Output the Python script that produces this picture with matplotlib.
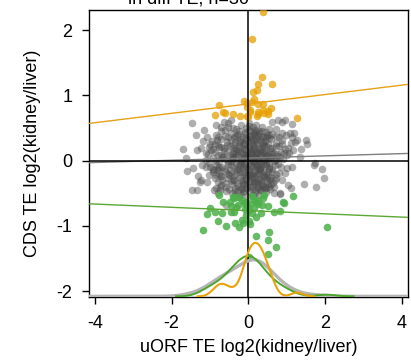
import matplotlib
matplotlib.use("Agg")
import matplotlib.pyplot as plt
import numpy as np

plt.rcParams["font.family"] = ["Liberation Sans", "DejaVu Sans"]
plt.rcParams["axes.unicode_minus"] = False

# points (uORF TE, CDS TE)
orange_pts = [
    (0.39, 2.28), (0.09, 1.87), (0.35, 1.29), (0.24, 1.18), (0.62, 1.18),
    (0.23, 1.09), (0.12, 1.05), (-0.11, 0.92), (0.15, 0.94), (0.09, 0.90),
    (-0.04, 0.88), (-0.76, 0.85), (0.26, 0.87), (0.38, 0.87), (-0.04, 0.83),
    (0.04, 0.77), (-0.66, 0.75), (-0.60, 0.73), (-0.40, 0.72), (-0.87, 0.70),
    (0.24, 0.75), (0.39, 0.77), (0.52, 0.76), (0.58, 0.80), (0.52, 0.72),
    (-0.21, 0.68), (-0.02, 0.67), (0.22, 0.69), (0.26, 0.71), (1.27, 0.66),
    (-0.03, 0.68), (0.05, 0.75), (0.40, 0.73),
]

green_pts = [
    (-0.77, -0.52), (-0.66, -0.64), (-1.00, -0.72), (-1.08, -0.82), (-0.88, -0.79),
    (-0.69, -0.80), (-0.80, -0.92), (-1.18, -1.07), (-0.59, -1.00), (-0.48, -0.63),
    (-0.46, -0.70), (-0.46, -0.79), (-0.41, -0.56), (-0.36, -0.57), (-0.33, -0.71),
    (-0.37, -0.79), (-0.26, -0.55), (-0.17, -0.60), (-0.11, -0.65), (-0.05, -0.63),
    (-0.03, -0.70), (0.05, -0.66), (0.10, -0.54), (0.15, -0.60), (0.19, -0.63),
    (0.26, -0.66), (0.35, -0.68), (0.37, -0.57), (0.40, -0.52), (0.24, -0.60),
    (0.32, -0.80), (0.19, -0.86), (0.10, -0.80), (0.01, -0.75), (-0.05, -0.83),
    (-0.17, -0.91), (-0.14, -0.95), (-0.35, -0.95), (-0.23, -1.01), (0.01, -0.93),
    (0.04, -0.97), (0.52, -0.69), (0.66, -0.78), (0.83, -0.77), (0.91, -0.63),
    (0.94, -0.65), (1.17, -0.54), (0.19, -1.16), (0.53, -1.10), (0.50, -1.21),
    (0.73, -1.33), (0.51, -1.43), (2.04, -1.01), (0.02, -1.47), (-0.28, -0.68),
    (-0.09, -0.74), (0.15, -0.73),
]

gray_pts = [
    # sparse outer points
    (-1.47, 0.57), (-1.71, 0.18), (-1.62, 0.04), (-1.61, -0.16), (-1.44, -0.11),
    (-1.46, -0.45), (-1.33, -0.45), (-1.36, 0.39), (-1.34, 0.16), (-1.31, -0.24),
    (-1.23, -0.30), (-1.18, 0.30), (-1.15, 0.47), (-1.08, 0.37), (-1.23, 0.20),
    (-1.10, 0.11), (-1.20, -0.06), (-1.11, -0.09), (-1.03, -0.22), (-1.07, -0.33),
    (-0.99, 0.25), (-0.92, 0.18), (-0.84, 0.55), (-0.82, 0.31), (-0.77, 0.21),
    (-0.91, -0.14), (-0.80, -0.11), (-0.71, -0.23), (-0.84, -0.42), (-0.90, -0.45),
    (-0.75, -0.40), (-0.57, -0.68), (-0.64, 0.60), (-0.53, 0.58), (-0.44, 0.63),
    (-0.72, 0.51), (-1.25, -0.32), (-0.80, -0.50), (-0.75, -0.45),
    (0.78, 0.62), (0.87, 0.59), (0.96, 0.62), (1.13, 0.56), (1.08, 0.43),
    (1.18, 0.42), (1.10, 0.27), (1.22, 0.29), (1.26, 0.31), (1.51, 0.32),
    (1.53, 0.25), (1.37, 0.18), (1.17, 0.17), (1.04, 0.20), (1.07, 0.11),
    (1.34, 0.05), (1.70, -0.06), (1.73, -0.04), (1.93, -0.13), (1.96, -0.27),
    (1.01, -0.11), (1.13, -0.10), (1.45, -0.36), (1.77, -0.41), (1.04, -0.38),
    (1.12, -0.42), (0.83, -0.50), (0.68, -0.50), (0.89, -0.29), (0.95, -0.19),
    (0.88, 0.43), (0.97, 0.40), (0.63, 0.60), (0.72, 0.48), (0.54, -0.40),
    (0.45, -0.42), (1.15, 0.37), (0.82, -0.51),
    # dense core
    (-0.52, 0.52), (-0.31, 0.49), (-0.18, 0.55), (0.03, 0.53), (0.17, 0.47),
    (0.36, 0.51), (0.55, 0.49), (-0.70, 0.45),
    (-0.85, 0.40), (-0.62, 0.38), (-0.44, 0.43), (-0.27, 0.41), (-0.08, 0.44),
    (0.10, 0.39), (0.28, 0.42), (0.46, 0.37), (0.63, 0.41), (0.80, 0.36),
    (-0.95, 0.30), (-0.70, 0.33), (-0.55, 0.28), (-0.38, 0.34), (-0.21, 0.30),
    (-0.05, 0.33), (0.07, 0.28), (0.22, 0.31), (0.39, 0.29), (0.55, 0.34),
    (0.71, 0.27), (0.88, 0.31),
    (-1.02, 0.21), (-0.78, 0.24), (-0.63, 0.19), (-0.47, 0.23), (-0.33, 0.18),
    (-0.15, 0.24), (0.00, 0.20), (0.13, 0.23), (0.31, 0.18), (0.47, 0.22),
    (0.62, 0.19), (0.79, 0.23), (0.95, 0.18),
    (-1.05, 0.10), (-0.88, 0.13), (-0.71, 0.09), (-0.56, 0.14), (-0.40, 0.11),
    (-0.26, 0.15), (-0.10, 0.09), (0.04, 0.13), (0.19, 0.10), (0.35, 0.14),
    (0.52, 0.09), (0.68, 0.12), (0.84, 0.14), (1.00, 0.08),
    (-1.10, 0.01), (-0.93, 0.04), (-0.77, -0.01), (-0.60, 0.03), (-0.46, 0.00),
    (-0.32, 0.05), (-0.18, 0.01), (-0.03, 0.04), (0.11, -0.01), (0.26, 0.03),
    (0.42, 0.00), (0.58, 0.05), (0.73, 0.01), (0.90, 0.03),
    (-1.00, -0.09), (-0.84, -0.06), (-0.68, -0.10), (-0.52, -0.05), (-0.37, -0.09),
    (-0.22, -0.07), (-0.07, -0.10), (0.07, -0.06), (0.22, -0.09), (0.37, -0.05),
    (0.53, -0.10), (0.69, -0.07), (0.85, -0.09),
    (-0.93, -0.17), (-0.77, -0.20), (-0.62, -0.16), (-0.46, -0.19), (-0.30, -0.15),
    (-0.14, -0.20), (0.01, -0.17), (0.16, -0.19), (0.31, -0.15), (0.47, -0.20),
    (0.63, -0.17), (0.80, -0.19),
    (-0.86, -0.27), (-0.69, -0.30), (-0.54, -0.26), (-0.38, -0.29), (-0.22, -0.25),
    (-0.06, -0.30), (0.09, -0.27), (0.25, -0.29), (0.41, -0.25), (0.57, -0.30),
    (0.73, -0.27),
    (-0.72, -0.37), (-0.57, -0.40), (-0.42, -0.36), (-0.27, -0.39), (-0.11, -0.35),
    (0.04, -0.40), (0.19, -0.36), (0.35, -0.39), (0.50, -0.36), (0.66, -0.40),
    (-0.58, -0.46), (-0.43, -0.49), (-0.28, -0.45), (-0.13, -0.48), (0.02, -0.46),
    (0.17, -0.49), (0.32, -0.45), (0.47, -0.48),
    (-0.62, 0.47), (-0.41, 0.50), (-0.24, 0.46), (-0.06, 0.50), (0.12, 0.52),
    (0.29, 0.46), (0.46, 0.44),
    (-0.78, 0.37), (-0.52, 0.36), (-0.35, 0.29), (-0.15, 0.37), (0.02, 0.38),
    (0.18, 0.40), (0.37, 0.36), (0.54, 0.40), (0.72, 0.38),
    (-0.87, 0.25), (-0.70, 0.21), (-0.55, 0.24), (-0.40, 0.20), (-0.25, 0.22),
    (-0.08, 0.26), (0.08, 0.18), (0.22, 0.25), (0.40, 0.24), (0.56, 0.19),
    (0.71, 0.22), (0.87, 0.26),
    (-0.97, 0.16), (-0.79, 0.08), (-0.63, 0.15), (-0.48, 0.09), (-0.33, 0.12),
    (-0.18, 0.14), (-0.02, 0.09), (0.12, 0.15), (0.27, 0.09), (0.44, 0.12),
    (0.60, 0.15), (0.76, 0.07), (0.92, 0.11),
    (-1.02, -0.03), (-0.85, 0.00), (-0.68, 0.05), (-0.53, -0.02), (-0.39, 0.02),
    (-0.25, -0.02), (-0.11, 0.03), (0.04, 0.00), (0.18, 0.04), (0.34, -0.02),
    (0.50, 0.02), (0.66, -0.01), (0.82, 0.05),
    (-0.92, -0.12), (-0.76, -0.09), (-0.60, -0.13), (-0.45, -0.07), (-0.29, -0.12),
    (-0.14, -0.06), (0.00, -0.12), (0.14, -0.08), (0.30, -0.12), (0.45, -0.07),
    (0.61, -0.12), (0.77, -0.05),
    (-0.84, -0.22), (-0.70, -0.24), (-0.54, -0.20), (-0.38, -0.23), (-0.22, -0.18),
    (-0.06, -0.22), (0.09, -0.24), (0.24, -0.20), (0.39, -0.22), (0.55, -0.25),
    (0.71, -0.21),
    (-0.78, -0.33), (-0.62, -0.34), (-0.46, -0.31), (-0.30, -0.34), (-0.14, -0.31),
    (0.01, -0.33), (0.16, -0.32), (0.32, -0.34), (0.48, -0.31), (0.64, -0.34),
    (-0.50, -0.43), (-0.35, -0.42), (-0.20, -0.44), (-0.05, -0.42), (0.10, -0.44),
    (0.25, -0.42), (0.40, -0.43), (0.56, -0.44),
    (-0.35, -0.53), (-0.18, -0.52), (-0.02, -0.55), (0.13, -0.53), (0.28, -0.52),
    (-0.40, 0.06), (-0.20, -0.03), (0.15, 0.06), (0.30, -0.12), (-0.10, 0.18),
    (0.05, -0.22), (-0.25, 0.28), (0.20, 0.35), (-0.50, -0.22), (0.45, 0.15),
    (-0.15, -0.35), (0.10, 0.45), (0.60, -0.25), (-0.65, 0.05), (0.75, 0.10),
    (-0.80, -0.15), (0.25, -0.40), (-0.35, 0.38),
    # densest centre
    (-0.45, 0.31), (-0.38, 0.15), (-0.33, -0.04), (-0.31, -0.21), (-0.29, 0.40),
    (-0.27, 0.08), (-0.24, -0.12), (-0.22, 0.19), (-0.20, -0.29), (-0.19, 0.33),
    (-0.17, 0.04), (-0.16, -0.42), (-0.14, 0.12), (-0.12, -0.18), (-0.11, 0.27),
    (-0.09, -0.05), (-0.08, 0.41), (-0.07, -0.26), (-0.05, 0.16), (-0.04, -0.37),
    (-0.03, 0.06), (-0.01, 0.30), (0.00, -0.14), (0.01, 0.22), (0.02, -0.03),
    (0.03, 0.47), (0.05, -0.31), (0.06, 0.10), (0.07, 0.36), (0.08, -0.20),
    (0.09, 0.02), (0.11, 0.25), (0.12, -0.09), (0.13, -0.39), (0.14, 0.17),
    (0.15, 0.42), (0.16, -0.26), (0.17, 0.05), (0.18, -0.14), (0.20, 0.29),
    (0.21, -0.05), (0.22, 0.13), (0.23, -0.33), (0.25, 0.38), (0.26, -0.19),
    (0.27, 0.20), (0.28, 0.00), (0.30, -0.28), (0.31, 0.33), (0.32, 0.08),
    (0.34, -0.10), (0.35, 0.22), (0.37, -0.37), (0.38, 0.02), (0.40, 0.14),
    (0.41, -0.18), (0.43, 0.30), (0.45, -0.05), (0.47, 0.07), (0.49, -0.27),
    (0.51, 0.25), (0.53, -0.13), (0.56, 0.06), (0.58, -0.35), (0.60, 0.33),
    (-0.48, -0.15), (-0.43, 0.05), (-0.41, -0.30), (-0.36, 0.24), (-0.34, -0.46),
    (0.18, -0.45), (0.05, 0.33), (-0.10, -0.47), (0.36, 0.45), (-0.02, -0.22),
    (0.10, 0.12), (0.24, -0.06), (-0.06, 0.08), (0.15, -0.02), (0.30, 0.15),
    (-0.15, -0.10), (0.44, -0.40), (0.02, 0.57), (0.20, 0.55), (-0.25, -0.55),
    (0.12, 0.31), (0.19, -0.22), (0.26, 0.11), (0.33, -0.31), (0.39, 0.26),
    (0.44, 0.04), (0.50, -0.16), (0.14, -0.33), (0.21, 0.44), (0.28, -0.11),
    (0.35, 0.36), (0.42, -0.24), (0.08, 0.05), (0.16, 0.19), (0.23, 0.02),
    (0.31, -0.45), (0.48, 0.40), (0.55, -0.04), (0.62, 0.10), (0.70, -0.30),
]

# fitted lines: (slope, intercept)
fit_orange = (0.072, 0.87)
fit_gray = (0.017, 0.04)
fit_green = (-0.025, -0.765)

# density curves at the bottom: baseline, peak heights, bandwidths
dens_base = -2.08
dens_peak = {"gray": 0.56, "green": 0.62, "orange": 0.82}
dens_bw = {"gray": 0.26, "green": 0.24, "orange": 0.15}

x_ticks = [-4, -2, 0, 2, 4]
y_ticks = [-2, -1, 0, 1, 2]

c_orange = "#E69F00"
c_green = "#4DAF4A"
c_gray = "#4d4d4d"


def kde(vals, grid, bw):
    vals = np.asarray(vals)
    return np.exp(-0.5 * ((grid[:, None] - vals[None, :]) / bw) ** 2).sum(axis=1)


fig = plt.figure(figsize=(4.11, 3.6), dpi=100)
ax = fig.add_axes([89 / 411, 63 / 360, 319 / 411, 287 / 360])

ox, oy = np.array(orange_pts).T
gx, gy = np.array(green_pts).T
kx, ky = np.array(gray_pts).T

ax.scatter(kx, ky, s=30, color=c_gray, alpha=0.45, linewidths=0, zorder=2)
ax.scatter(gx, gy, s=30, color=c_green, alpha=0.85, linewidths=0, zorder=3)
ax.scatter(ox, oy, s=30, color=c_orange, alpha=0.75, linewidths=0, zorder=3)

xl = (-4.15, 4.16)
xs = np.linspace(xl[0], xl[1], 500)
for (m, b), col in [(fit_orange, "#E6A117"), (fit_green, "#5AA832"), (fit_gray, "#7f7f7f")]:
    ax.plot(xs, m * xs + b, color=col, lw=1.0, zorder=4)

ax.axvline(0, color="black", lw=1.1, zorder=5)
ax.axhline(0, color="black", lw=1.1, zorder=5)

# density curves
for vals, key, col, lw, full in [
    (kx, "gray", "#b5b5b5", 2.4, True),
    (gx, "green", "#4EA52E", 1.4, False),
    (ox, "orange", "#E8A20C", 1.5, False),
]:
    bw = dens_bw[key]
    d = kde(vals, xs, bw)
    d = d / d.max() * dens_peak[key] + dens_base
    if full:
        ax.plot(xs, d, color=col, lw=lw, zorder=6)
    else:
        m = (xs > vals.min() - 3 * bw) & (xs < vals.max() + 3 * bw)
        ax.plot(xs[m], d[m], color=col, lw=lw, zorder=6)

ax.set_xlim(*xl)
ax.set_ylim(-2.09, 2.31)
ax.set_xticks(x_ticks)
ax.set_yticks(y_ticks)
ax.tick_params(direction="out", length=5, width=1, labelsize=13, colors="black")
ax.tick_params(axis="x", pad=8)
ax.tick_params(axis="y", pad=7)
for s in ax.spines.values():
    s.set_linewidth(1.0)

ax.set_xlabel("uORF TE log2(kidney/liver)", fontsize=13, labelpad=5)
ax.set_ylabel("CDS TE log2(kidney/liver)", fontsize=13, labelpad=11)

fig.text(188 / 411, 1 - 3 / 360, "in diff TE, n=30", ha="center", va="baseline", fontsize=13)

fig.savefig("out.png", dpi=100)
